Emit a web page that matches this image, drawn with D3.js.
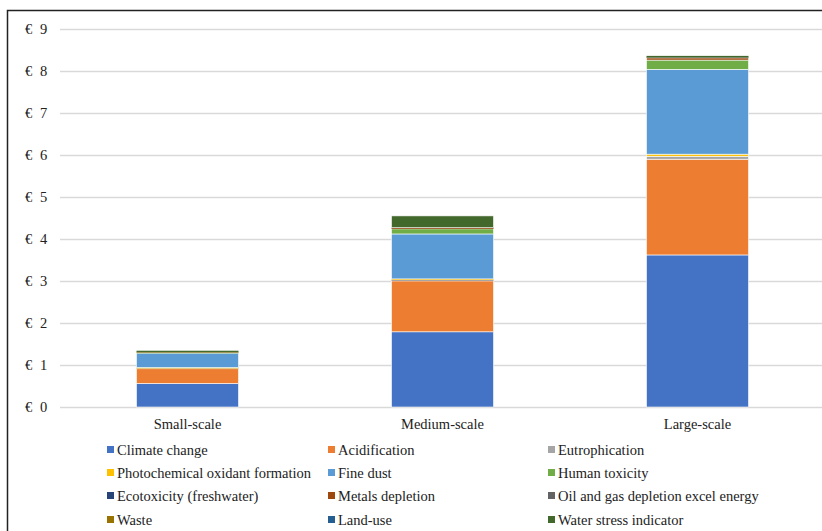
<!DOCTYPE html>
<html>
<head>
<meta charset="utf-8">
<script src="https://cdn.jsdelivr.net/npm/d3@7"></script>
<style>
  body { margin: 0; background: #fff; }
</style>
</head>
<body>
<div id="chart"></div>
<script>
// Chart data
const categories = ['Small-scale', 'Medium-scale', 'Large-scale']
const seriesNames = ['Climate change', 'Acidification', 'Eutrophication',
  'Photochemical oxidant formation', 'Fine dust', 'Human toxicity',
  'Ecotoxicity (freshwater)', 'Metals depletion', 'Oil and gas depletion excel energy',
  'Waste', 'Land-use', 'Water stress indicator']
const climateChange = [0.56, 1.79, 3.62]
const acidification = [0.35, 1.21, 2.28]
const eutrophication = [0.01, 0.03, 0.07]
const photochemical = [0.02, 0.02, 0.05]
const fineDust = [0.34, 1.07, 2.02]
const humanToxicity = [0.02, 0.12, 0.22]
const ecotoxicity = [0, 0, 0]
const metalsDepletion = [0.01, 0.02, 0.05]
const oilGas = [0, 0.01, 0.01]
const waste = [0, 0, 0]
const landUse = [0, 0, 0]
const waterStress = [0.03, 0.28, 0.04]
const yTicks = [0, 1, 2, 3, 4, 5, 6, 7, 8, 9]
const colors = ['#4472C4', '#ED7D31', '#A5A5A5', '#FFC000', '#5B9BD5', '#70AD47',
  '#264478', '#9E480E', '#636363', '#997300', '#255E91', '#43682B']

const allSeries = [climateChange, acidification, eutrophication, photochemical, fineDust,
  humanToxicity, ecotoxicity, metalsDepletion, oilGas, waste, landUse, waterStress]

const width = 822,
  height = 531,
  fontFamily = '"Liberation Serif", "Times New Roman", Times, serif'

const svg = d3.select('#chart')
  .append('svg')
  .attr('width', width)
  .attr('height', height)
  .attr('font-family', fontFamily)

// outer frame (right & bottom run off the picture)
svg.append('rect')
  .attr('x', 7.5).attr('y', 10.5)
  .attr('width', 830).attr('height', 540)
  .attr('fill', 'none')
  .attr('stroke', '#222')
  .attr('stroke-width', 1.5)

const plotLeft = 60, plotRight = 825

const x = d3.scaleBand()
  .domain(categories)
  .range([plotLeft, plotRight])
  .paddingInner(0.6)
  .paddingOuter(0.3)

const y = d3.scaleLinear()
  .domain([0, 9])
  .range([407, 29])

// gridlines
svg.append('g')
  .selectAll('line')
  .data(yTicks)
  .enter()
  .append('line')
  .attr('x1', plotLeft)
  .attr('x2', plotRight)
  .attr('y1', d => y(d) + 0.5)
  .attr('y2', d => y(d) + 0.5)
  .attr('stroke', '#d9d9d9')
  .attr('stroke-width', 1.3)

// y labels: euro sign and number placed apart like the original
const yLab = svg.append('g')
  .selectAll('g')
  .data(yTicks)
  .enter()
  .append('g')
  .attr('transform', d => `translate(0, ${y(d) + 5})`)
yLab.append('text')
  .attr('x', 25)
  .attr('font-size', 14.5)
  .attr('fill', '#222')
  .text('€')
yLab.append('text')
  .attr('x', 40)
  .attr('font-size', 14.5)
  .attr('fill', '#222')
  .text(d => d)

// stacked data
const table = categories.map((c, i) => {
  const row = { category: c }
  seriesNames.forEach((s, k) => { row[s] = allSeries[k][i] })
  return row
})
const stacked = d3.stack().keys(seriesNames)(table)

svg.append('g')
  .selectAll('g')
  .data(stacked)
  .enter()
  .append('g')
  .attr('fill', (d, i) => colors[i])
  .selectAll('rect')
  .data(d => d)
  .enter()
  .append('rect')
  .attr('x', d => x(d.data.category))
  .attr('width', x.bandwidth())
  .attr('y', d => y(d[1]))
  .attr('height', d => Math.max(0, y(d[0]) - y(d[1])))
  .attr('stroke', '#fff')
  .attr('stroke-width', d => (y(d[0]) - y(d[1])) > 2 ? 0.6 : 0)

// category labels
svg.append('g')
  .selectAll('text')
  .data(categories)
  .enter()
  .append('text')
  .attr('x', d => x(d) + x.bandwidth() / 2)
  .attr('y', 429)
  .attr('text-anchor', 'middle')
  .attr('font-size', 14.5)
  .attr('fill', '#222')
  .text(d => d)

// legend
const colX = [107, 328, 548]
const rowY = [450, 473, 496, 520]
const legend = svg.append('g')
  .selectAll('g')
  .data(seriesNames)
  .enter()
  .append('g')
  .attr('transform', (d, i) => `translate(${colX[i % 3]}, ${rowY[Math.floor(i / 3)]})`)

legend.append('rect')
  .attr('x', 0).attr('y', -4)
  .attr('width', 7).attr('height', 7)
  .attr('fill', (d, i) => colors[i])

legend.append('text')
  .attr('x', 10)
  .attr('y', 5)
  .attr('font-size', 14.5)
  .attr('fill', '#222')
  .text(d => d)
</script>
</body>
</html>
